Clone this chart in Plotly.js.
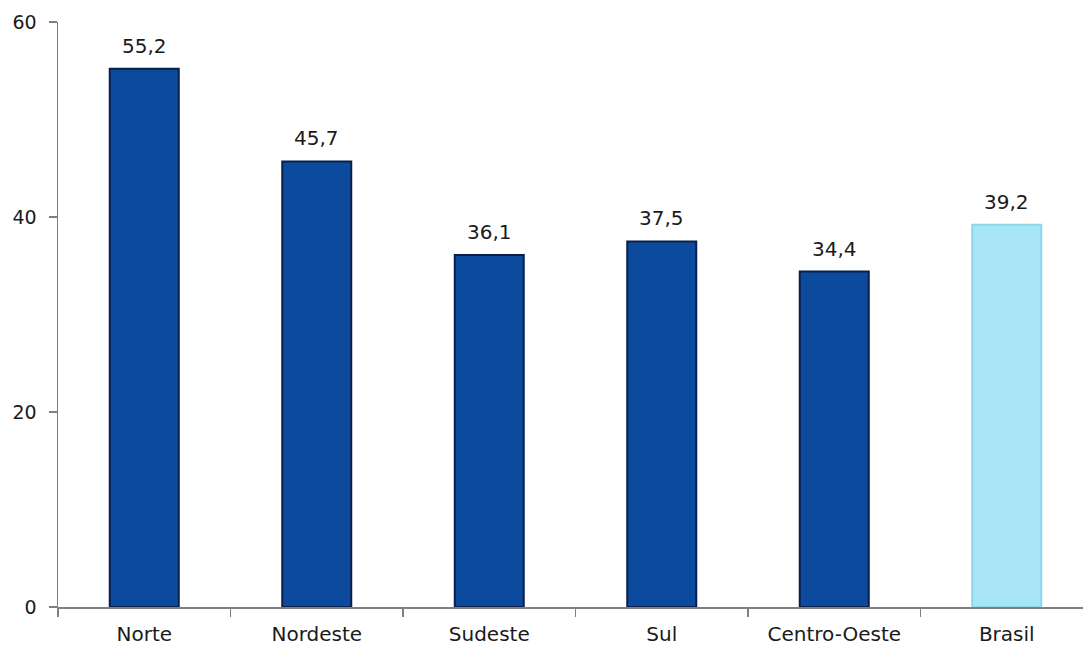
<!DOCTYPE html>
<html>
<head>
<meta charset="utf-8">
<script src="https://cdn.plot.ly/plotly-3.0.1.min.js"></script>
<style>
  html, body { margin: 0; padding: 0; background: #fff; }
  #chart { width: 1083px; height: 648px; }
</style>
</head>
<body>
<div id="chart"></div>
<script>
// Regiões e valores (%)
const regioes = ["Norte", "Nordeste", "Sudeste", "Sul", "Centro-Oeste", "Brasil"];
const valores = [55.2, 45.7, 36.1, 37.5, 34.4, 39.2];
const yTicks = [0, 20, 40, 60];

const corRegiao = "#0B4A9C";
const bordaRegiao = "#0A1E4A";
const corBrasil = "#A8E5F7";
const bordaBrasil = "#8CD6EE";

const cores = regioes.map(r => r === "Brasil" ? corBrasil : corRegiao);
const bordas = regioes.map(r => r === "Brasil" ? bordaBrasil : bordaRegiao);

const trace = {
  type: "bar",
  x: regioes,
  y: valores,
  width: 0.4,
  marker: { color: cores, line: { color: bordas, width: 2 } },
  hoverinfo: "x+y"
};

const rotulos = regioes.map((r, i) => ({
  x: r,
  y: valores[i],
  xref: "x",
  yref: "y",
  text: valores[i].toFixed(1).replace(".", ","),
  showarrow: false,
  yanchor: "bottom",
  yshift: 9,
  font: { family: "DejaVu Sans", size: 20, color: "#1a1a1a" }
}));

const layout = {
  width: 1083,
  height: 648,
  margin: { l: 58, r: 0, t: 22, b: 41 },
  paper_bgcolor: "#ffffff",
  plot_bgcolor: "#ffffff",
  showlegend: false,
  separators: ",.",
  font: { family: "DejaVu Sans", color: "#1a1a1a" },
  xaxis: {
    type: "category",
    range: [-0.5, 5.442],
    showline: true,
    linecolor: "#808080",
    linewidth: 1.5,
    ticks: "outside",
    tickson: "boundaries",
    ticklen: 8,
    tickcolor: "#808080",
    tickwidth: 1.5,
    showgrid: false,
    zeroline: false,
    ticklabelstandoff: 8,
    tickfont: { family: "DejaVu Sans", size: 20, color: "#1a1a1a" }
  },
  yaxis: {
    range: [0, 60],
    tickvals: yTicks,
    ticktext: yTicks.map(String),
    showline: true,
    linecolor: "#808080",
    linewidth: 1.5,
    ticks: "outside",
    ticklen: 8,
    tickcolor: "#808080",
    tickwidth: 1.5,
    showgrid: false,
    zeroline: false,
    ticklabelstandoff: 8,
    tickfont: { family: "DejaVu Sans", size: 19, color: "#1a1a1a" }
  },
  annotations: rotulos
};

Plotly.newPlot("chart", [trace], layout, { displayModeBar: false, staticPlot: true });
</script>
</body>
</html>
